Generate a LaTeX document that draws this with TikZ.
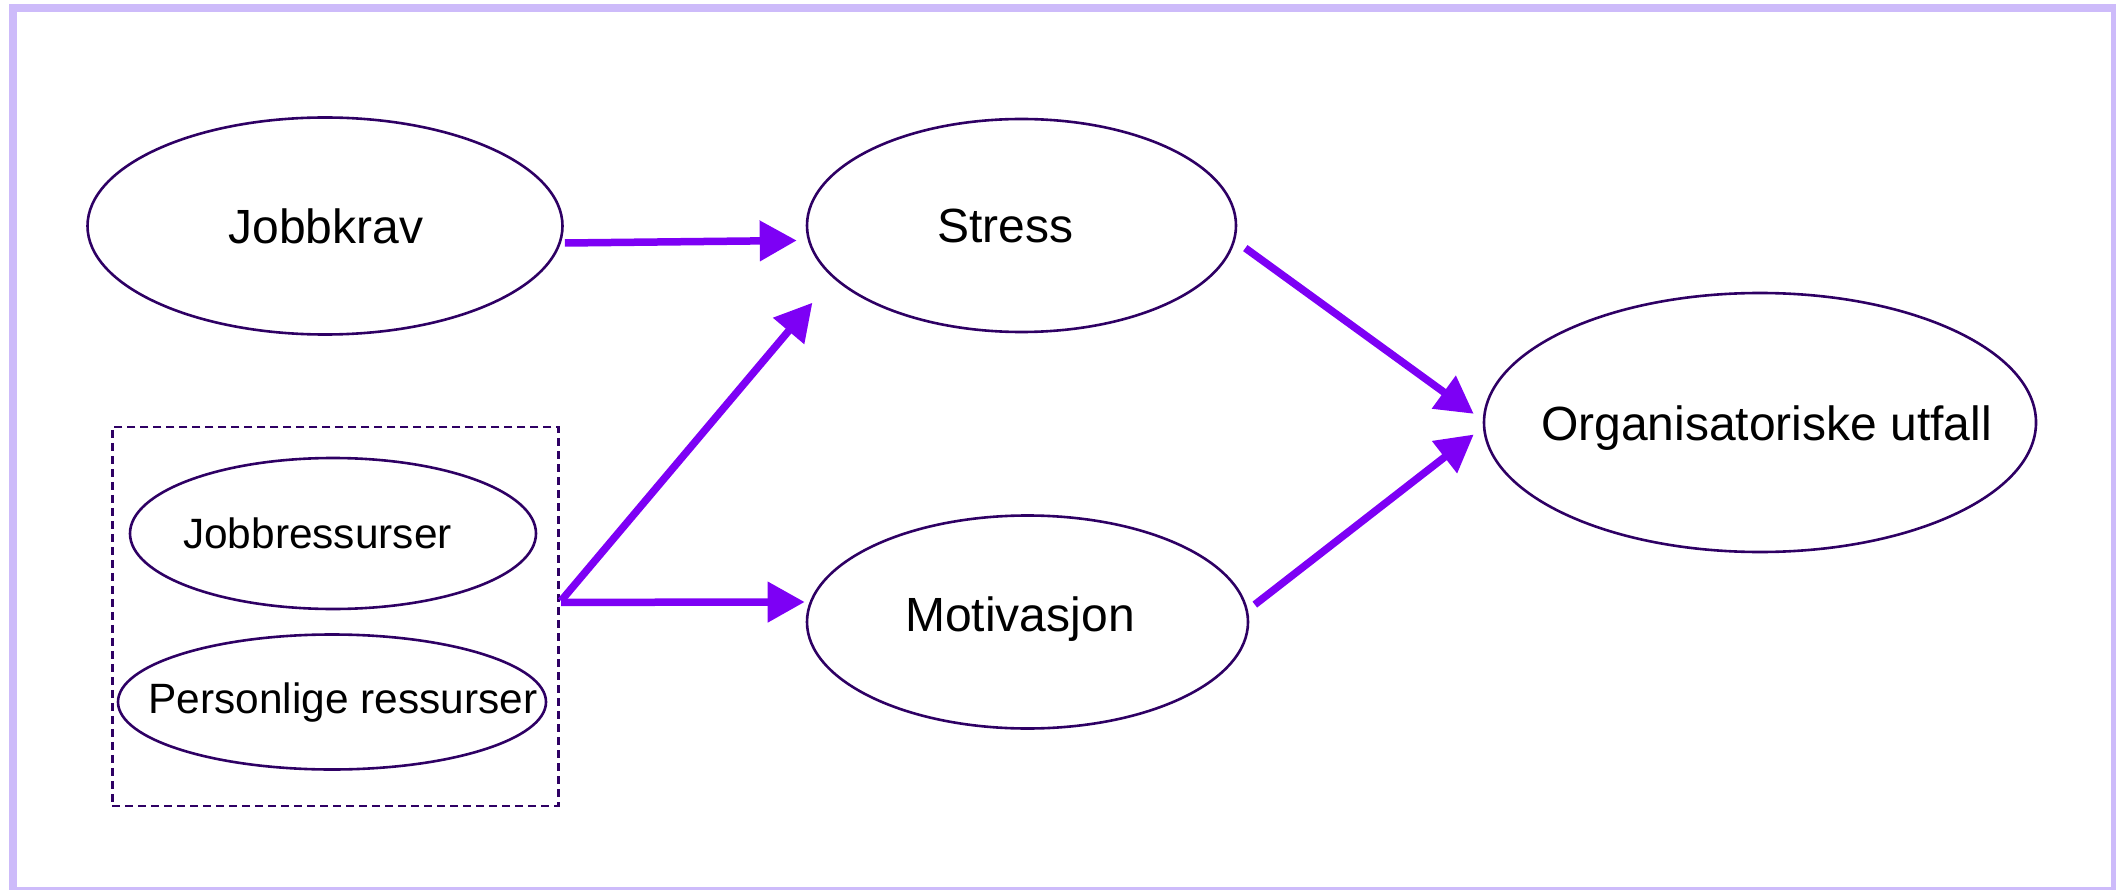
\documentclass[tikz,border=0pt]{standalone}
\usepackage{fontspec}
\setmainfont{Liberation Sans}
\usetikzlibrary{shapes.geometric,arrows.meta}
\definecolor{edgec}{RGB}{46,0,100}
\definecolor{arrc}{RGB}{125,0,245}
\definecolor{framec}{RGB}{205,187,250}
\tikzset{
  oval/.style={ellipse, draw=edgec, line width=2.6pt, inner sep=0pt},
  bigtxt/.style={font=\fontsize{48}{56}\selectfont, inner sep=0pt},
  smalltxt/.style={font=\fontsize{42.4}{50}\selectfont, inner sep=0pt},
  flow/.style={draw=arrc, line width=7.5pt, -{Triangle[length=37pt,width=39pt]}},
  groupbox/.style={draw=edgec, line width=2.4pt, dash pattern=on 8pt off 5pt, inner sep=0pt}
}
\begin{document}
\begin{tikzpicture}[x=1pt,y=-1pt]
\useasboundingbox (0,0) rectangle (2116,890);
\draw[framec, line width=8pt] (13,8) rectangle (2115,891);

\node[oval, minimum width=475pt, minimum height=217pt] (jobbkrav) at (325,226) {};
\node[bigtxt] (jobbkravt) at (326,226) {Jobbkrav};

\node[oval, minimum width=429pt, minimum height=213pt] (stress) at (1021.5,225.5) {};
\node[bigtxt] (stresst) at (1005.5,226) {Stress};

\node[oval, minimum width=441pt, minimum height=213pt] (motiv) at (1027.5,622) {};
\node[bigtxt] (motivt) at (1020,619) {Motivasjon};

\node[oval, minimum width=552pt, minimum height=259pt] (org) at (1760,422.5) {};
\node[bigtxt] (orgt) at (1766.5,428) {Organisatoriske utfall};

\node[groupbox, minimum width=446pt, minimum height=379pt] (resbox) at (335.3,616.4) {};
\node[oval, minimum width=406pt, minimum height=151pt] (jobbres) at (333,533.5) {};
\node[smalltxt] (jobbrest) at (317.5,533) {Jobbressurser};
\node[oval, minimum width=428pt, minimum height=135pt] (persres) at (332,702) {};
\node[smalltxt] (persrest) at (343,703) {Personlige ressurser};

\draw[flow] ([xshift=1pt,yshift=-17pt]jobbkrav.east) -- ([xshift=-9pt,yshift=-15pt]stress.west);
\draw[flow] ([xshift=1.5pt,yshift=15.5pt]resbox.east) -- ([xshift=-56.5pt,yshift=-1pt]stress.south west);
\draw[flow] ([xshift=1.5pt,yshift=14pt]resbox.east) -- ([xshift=-1pt,yshift=20pt]motiv.west);
\draw[flow] ([xshift=8pt,yshift=-22.6pt]stress.east) -- ([xshift=-9pt,yshift=8.7pt]org.west);
\draw[flow] ([xshift=5.5pt,yshift=17.4pt]motiv.east) -- ([xshift=-9pt,yshift=-12pt]org.west);
\end{tikzpicture}
\end{document}
